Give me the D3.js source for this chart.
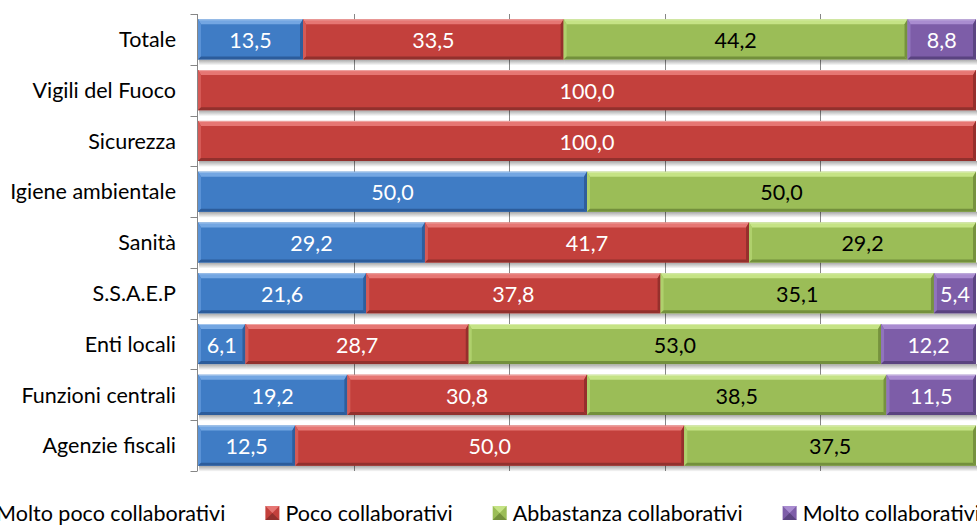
<!DOCTYPE html>
<html>
<head>
<meta charset="utf-8">
<script src="https://cdn.jsdelivr.net/npm/d3@7"></script>
<style>
  html, body { margin: 0; padding: 0; background: #fff; overflow: hidden; }
  svg { display: block; }
  text { font-family: Lato, "Open Sans", sans-serif; }
</style>
</head>
<body>
<svg id="chart" width="977" height="529"></svg>
<script>
// ---- data ----
const categories = ["Totale", "Vigili del Fuoco", "Sicurezza", "Igiene ambientale", "Sanità",
  "S.S.A.E.P", "Enti locali", "Funzioni centrali", "Agenzie fiscali"];
const seriesNames = ["Molto poco collaborativi", "Poco collaborativi", "Abbastanza collaborativi", "Molto collaborativi"];
const moltoPoco  = [13.5, 0, 0, 50.0, 29.2, 21.6, 6.1, 19.2, 12.5];
const poco       = [33.5, 100.0, 100.0, 0, 41.7, 37.8, 28.7, 30.8, 50.0];
const abbastanza = [44.2, 0, 0, 50.0, 29.2, 35.1, 53.0, 38.5, 37.5];
const molto      = [8.8, 0, 0, 0, 0, 5.4, 12.2, 11.5, 0];
const gridTicks = [0.2, 0.4, 0.6, 0.8];

// ---- styles ----
const palette = [
  {base: "#3F7CC5", top: "#73A6E2", bottom: "#2C5C9B", side: "#5A92D6", edge: "#2F5E9C", text: "#FFFFFF"},
  {base: "#C3403C", top: "#E67673", bottom: "#92302D", side: "#D55A56", edge: "#962F2C", text: "#FFFFFF"},
  {base: "#9BBD57", top: "#C5E385", bottom: "#73903C", side: "#AFD06C", edge: "#76923E", text: "#000000"},
  {base: "#7D5DA8", top: "#A98CD0", bottom: "#5A4380", side: "#9074BD", edge: "#5C4582", text: "#FFFFFF"}
];
const fontSize = 21.5;

const W = 977, H = 529;
const margin = {left: 198, right: 1, top: 14, bottom: 58};
const svg = d3.select("#chart");

const table = categories.map((c, i) => ({
  cat: c, s0: moltoPoco[i], s1: poco[i], s2: abbastanza[i], s3: molto[i]
}));
const keys = ["s0", "s1", "s2", "s3"];
const stacked = d3.stack().keys(keys).offset(d3.stackOffsetExpand)(table);

const x = d3.scaleLinear().domain([0, 1]).range([margin.left, W - margin.right]);
const y = d3.scaleBand().domain(categories).range([margin.top, H - margin.bottom]).paddingInner(0.21).paddingOuter(0.105);

// gradients for shadow
const defs = svg.append("defs");
const sg = defs.append("linearGradient").attr("id", "shadow").attr("x1", 0).attr("y1", 0).attr("x2", 0).attr("y2", 1);
sg.append("stop").attr("offset", 0).attr("stop-color", "#000").attr("stop-opacity", 0.35);
sg.append("stop").attr("offset", 1).attr("stop-color", "#000").attr("stop-opacity", 0);

// gridlines
svg.append("g").selectAll("line").data(gridTicks).join("line")
  .attr("x1", d => Math.round(x(d)) + 0.5).attr("x2", d => Math.round(x(d)) + 0.5)
  .attr("y1", y.range()[0]).attr("y2", y.range()[1])
  .attr("stroke", "#868686").attr("stroke-width", 1);

// y axis
const yAxis = svg.append("g").attr("transform", `translate(${margin.left - 0.5},0)`);
yAxis.append("line").attr("x1", 0).attr("x2", 0).attr("y1", y.range()[0]).attr("y2", y.range()[1])
  .attr("stroke", "#868686");
const bounds = d3.range(categories.length + 1).map(i => y.range()[0] + i * y.step());
yAxis.selectAll("line.tick").data(bounds).join("line").attr("class", "tick")
  .attr("x1", -7).attr("x2", 0).attr("y1", d => Math.round(d) + 0.5).attr("y2", d => Math.round(d) + 0.5)
  .attr("stroke", "#868686");
svg.append("g").selectAll("text").data(categories).join("text")
  .attr("x", margin.left - 22).attr("y", d => y(d) + y.bandwidth() / 2)
  .attr("dy", "0.36em").attr("text-anchor", "end")
  .attr("font-size", fontSize).attr("fill", "#000")
  .text(d => d);

// shadows under bars
svg.append("g").selectAll("rect").data(stacked.flatMap((s, si) => s.map(d => ({d, si}))).filter(o => o.d[1] - o.d[0] > 0))
  .join("rect")
  .attr("x", o => x(o.d[0]) + 1).attr("width", o => x(o.d[1]) - x(o.d[0]))
  .attr("y", o => y(o.d.data.cat) + y.bandwidth()).attr("height", 6)
  .attr("fill", "url(#shadow)");

// bars with bevel
const segs = [];
stacked.forEach((s, si) => s.forEach(d => {
  if (d[1] - d[0] > 0) segs.push({si, x0: x(d[0]), x1: x(d[1]), y0: y(d.data.cat), y1: y(d.data.cat) + y.bandwidth(), v: d.data[keys[si]]});
}));
const bt = 5, bb = 3, bs = 3;
const g = svg.append("g");
segs.forEach(s => {
  const p = palette[s.si];
  const seg = g.append("g");
  seg.append("rect").attr("x", s.x0).attr("y", s.y0).attr("width", s.x1 - s.x0).attr("height", s.y1 - s.y0).attr("fill", p.base);
  seg.append("path").attr("d", `M${s.x0},${s.y0}L${s.x1},${s.y0}L${s.x1 - bs},${s.y0 + bt}L${s.x0 + bs},${s.y0 + bt}Z`).attr("fill", p.top);
  seg.append("path").attr("d", `M${s.x0},${s.y0}L${s.x0 + bs},${s.y0 + bt}L${s.x0 + bs},${s.y1 - bb}L${s.x0},${s.y1}Z`).attr("fill", p.side);
  seg.append("path").attr("d", `M${s.x1},${s.y0}L${s.x1},${s.y1}L${s.x1 - bs},${s.y1 - bb}L${s.x1 - bs},${s.y0 + bt}Z`).attr("fill", p.edge);
  seg.append("path").attr("d", `M${s.x0},${s.y1}L${s.x0 + bs},${s.y1 - bb}L${s.x1 - bs},${s.y1 - bb}L${s.x1},${s.y1}Z`).attr("fill", p.bottom);
  seg.append("line").attr("x1", s.x0 + 1).attr("x2", s.x1 - 1).attr("y1", s.y0 + 0.5).attr("y2", s.y0 + 0.5)
    .attr("stroke", "#fff").attr("stroke-opacity", 0.35);
});

// labels
const fmt = v => v.toFixed(1).replace(".", ",");
svg.append("g").selectAll("text").data(segs).join("text")
  .attr("x", s => (s.x0 + s.x1) / 2).attr("y", s => (s.y0 + s.y1) / 2 + 1)
  .attr("dy", "0.36em").attr("text-anchor", "middle").attr("font-size", fontSize)
  .attr("fill", s => palette[s.si].text)
  .text(s => fmt(s.v));

// legend
const leg = svg.append("g");
const items = seriesNames.map((n, i) => {
  const it = leg.append("g");
  it.append("rect").attr("x", 0).attr("y", -7).attr("width", 14).attr("height", 14).attr("fill", palette[i].base);
  it.append("path").attr("d", "M0,-7L14,-7L7,0Z").attr("fill", palette[i].top);
  it.append("path").attr("d", "M0,7L14,7L7,0Z").attr("fill", palette[i].bottom);
  const t = it.append("text").attr("x", 20).attr("y", 0).attr("dy", "0.36em").attr("font-size", fontSize).attr("fill", "#000").text(n);
  return {it, w: 20 + t.node().getComputedTextLength()};
});
const gap = 40;
const total = d3.sum(items, d => d.w) + gap * (items.length - 1);
let cx = 478 - total / 2;
items.forEach(d => { d.it.attr("transform", `translate(${cx},513)`); cx += d.w + gap; });
</script>
</body>
</html>
